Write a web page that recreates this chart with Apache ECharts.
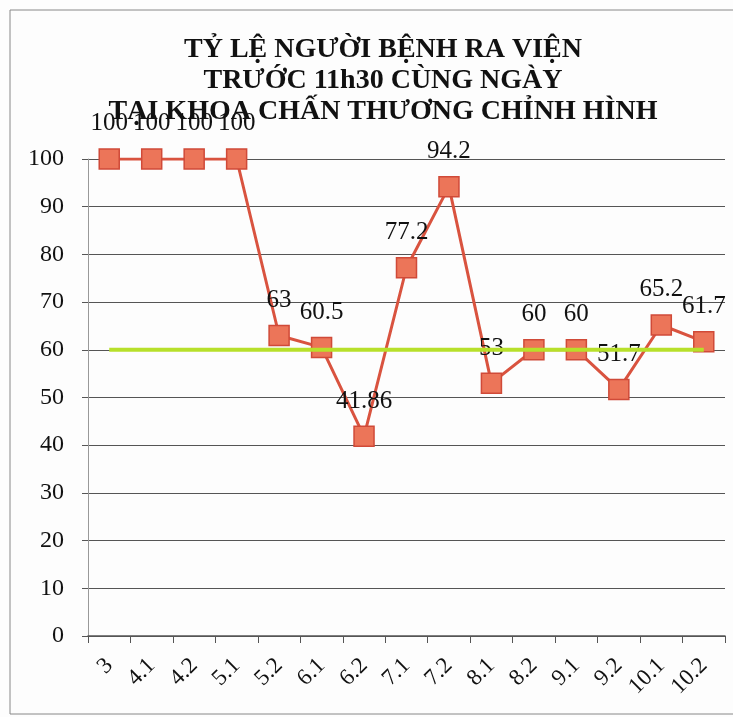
<!DOCTYPE html>
<html>
<head>
<meta charset="utf-8">
<script src="https://cdn.jsdelivr.net/npm/echarts@6/dist/echarts.min.js"></script>
<style>
  html, body { margin: 0; padding: 0; background: #fff; }
  #chart { width: 733px; height: 717px; }
</style>
</head>
<body>
<div id="chart"></div>
<script>
// du lieu doc tu bieu do
var categories = ['3', '4.1', '4.2', '5.1', '5.2', '6.1', '6.2', '7.1', '7.2', '8.1', '8.2', '9.1', '9.2', '10.1', '10.2'];
var rates = [100, 100, 100, 100, 63, 60.5, 41.86, 77.2, 94.2, 53, 60, 60, 51.7, 65.2, 61.7];
var target = [60, 60, 60, 60, 60, 60, 60, 60, 60, 60, 60, 60, 60, 60, 60];
var yTicks = [0, 10, 20, 30, 40, 50, 60, 70, 80, 90, 100];

var serif = '"Liberation Serif", "DejaVu Serif", serif';

var chart = echarts.init(document.getElementById('chart'));
var option = {
  backgroundColor: '#fdfdfd',
  animation: false,
  title: {
    text: 'TỶ LỆ NGƯỜI BỆNH RA VIỆN\nTRƯỚC 11h30 CÙNG NGÀY\nTẠI KHOA CHẤN THƯƠNG CHỈNH HÌNH',
    left: 378,
    textAlign: 'center',
    top: 29,
    textStyle: {
      fontFamily: serif,
      fontWeight: 'bold',
      fontSize: 28,
      lineHeight: 31,
      color: '#111'
    }
  },
  graphic: [{
    type: 'rect',
    shape: { x: 10, y: 10, width: 760, height: 704 },
    style: { fill: 'none', stroke: '#888', lineWidth: 1 }
  }],
  grid: { left: 88, right: 8, top: 159, bottom: 81 },
  xAxis: {
    type: 'category',
    data: categories,
    boundaryGap: true,
    axisLine: { lineStyle: { color: '#555', width: 1.5 } },
    axisTick: { show: true, length: 7, lineStyle: { color: '#555' } },
    axisLabel: {
      rotate: 45,
      margin: 26,
      fontFamily: serif,
      fontSize: 23,
      color: '#111'
    }
  },
  yAxis: {
    type: 'value',
    min: yTicks[0],
    max: yTicks[yTicks.length - 1],
    interval: 10,
    axisLine: { show: true, lineStyle: { color: '#999', width: 1 } },
    axisTick: { show: true, length: 6, lineStyle: { color: '#555' } },
    splitLine: { lineStyle: { color: '#555', width: 1.2 } },
    axisLabel: {
      fontFamily: serif,
      fontSize: 24,
      color: '#111',
      margin: 24
    }
  },
  series: [{
    name: 'Tỷ lệ',
    type: 'line',
    data: rates,
    symbol: 'rect',
    symbolSize: 20,
    lineStyle: { color: '#d9533f', width: 3 },
    itemStyle: { color: '#ec7559', borderColor: '#d04a38', borderWidth: 1.5 },
    label: {
      show: true,
      position: 'top',
      distance: 12,
      fontFamily: serif,
      fontSize: 25,
      color: '#111'
    },
    z: 3
  }, {
    name: 'Mục tiêu',
    type: 'line',
    data: target,
    symbol: 'none',
    lineStyle: { color: '#b7e02a', width: 4 },
    z: 4
  }]
};
chart.setOption(option);
</script>
</body>
</html>
